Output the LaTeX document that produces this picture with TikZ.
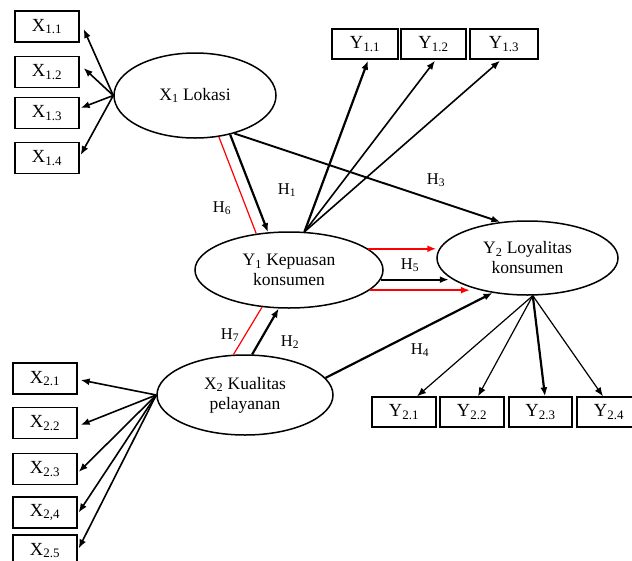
\documentclass[tikz,border=0pt]{standalone}
\usepackage{fontspec}
\setmainfont{Liberation Serif}
\usetikzlibrary{arrows.meta,shapes.geometric}
\newcommand\sbs[1]{\textsubscript{#1}}
\begin{document}
\begin{tikzpicture}[x=1pt,y=-1pt,
  ind/.style={draw,line width=1.3pt,minimum width=64pt,minimum height=30pt,inner sep=0pt,font=\fontsize{18.5}{20}\selectfont},
  lat/.style={draw,ellipse,line width=1.5pt,inner sep=0pt,align=center,font=\fontsize{17.5}{20}\selectfont},
  arr/.style={-{Latex[length=9pt,width=7pt]}},
  thk/.style={arr,line width=2.2pt},
  med/.style={arr,line width=1.6pt},
  thn/.style={arr,line width=1.2pt},
  redl/.style={red,line width=1.2pt},
  lab/.style={font=\fontsize{16.5}{18}\selectfont}]
\useasboundingbox (0,0) rectangle (632,560);

% latent variables
\node[lat,minimum width=162pt,minimum height=85pt] (x1) at (195,95.5) {X\sbs{1} Lokasi};
\node[lat,minimum width=188pt,minimum height=76pt] (y1) at (289,270) {Y\sbs{1} Kepuasan\\konsumen};
\node[lat,minimum width=181pt,minimum height=74pt] (y2) at (527.5,258) {Y\sbs{2} Loyalitas\\konsumen};
\node[lat,minimum width=176pt,minimum height=80pt] (x2) at (245,395) {X\sbs{2} Kualitas\\pelayanan};

% indicators X1
\node[ind,minimum height=31pt] (x11) at (47,26.5) {X\sbs{1.1}};
\node[ind,minimum height=31pt] (x12) at (47,72) {X\sbs{1.2}};
\node[ind,minimum height=31pt] (x13) at (47,113) {X\sbs{1.3}};
\node[ind,minimum height=31pt] (x14) at (47,158) {X\sbs{1.4}};
% indicators X2
\node[ind,minimum height=31pt] (x21) at (45,378.5) {X\sbs{2.1}};
\node[ind,minimum height=31pt] (x22) at (45,423) {X\sbs{2.2}};
\node[ind,minimum height=31pt] (x23) at (45,469) {X\sbs{2.3}};
\node[ind,minimum height=31pt] (x24) at (45,512.5) {X\sbs{2,4}};
\node[ind,minimum height=31pt] (x25) at (45,550.5) {X\sbs{2.5}};
% indicators Y1
\node[ind,minimum width=66pt] (y11) at (365,44) {Y\sbs{1.1}};
\node[ind,minimum width=65pt] (y12) at (433.5,44) {Y\sbs{1.2}};
\node[ind,minimum width=68pt] (y13) at (504,44) {Y\sbs{1.3}};
% indicators Y2
\node[ind] (y21) at (404,412) {Y\sbs{2.1}};
\node[ind] (y22) at (472,412) {Y\sbs{2.2}};
\node[ind,minimum width=63pt] (y23) at (540.5,412) {Y\sbs{2.3}};
\node[ind] (y24) at (609,412) {Y\sbs{2.4}};

% X1 loadings
\draw[med] (x1.west) -- ([xshift=4pt,yshift=-2.5pt]x11.east);
\draw[med] (x1.west) -- ([xshift=4pt,yshift=4pt]x12.east);
\draw[med] (x1.west) -- ([xshift=1pt,yshift=5pt]x13.east);
\draw[med] (x1.west) -- ([xshift=1pt,yshift=3pt]x14.east);
% X2 loadings
\draw[med] (x2.west) -- ([xshift=3pt,yshift=-1.5pt]x21.east);
\draw[med] (x2.west) -- ([xshift=3pt,yshift=-2pt]x22.east);
\draw[med] (x2.west) -- ([xshift=1pt,yshift=-3pt]x23.east);
\draw[med] (x2.west) -- ([xshift=1pt]x24.east);
\draw[med] (x2.west) -- ([xshift=1pt,yshift=2pt]x25.east);
% Y1 loadings
\draw[thk] (y1.68) -- ([xshift=3pt,yshift=-1pt]y11.south);
\draw[med] (y1.68) -- ([xshift=1.5pt,yshift=-1pt]y12.south);
\draw[med] (y1.68) -- ([xshift=-4pt,yshift=-1pt]y13.south);
% Y2 loadings
\draw[thn] (y2.-82) -- ([xshift=13pt]y21.north);
\draw[thn] (y2.-82) -- ([xshift=6pt]y22.north);
\draw[thk] (y2.-82) -- ([xshift=4.5pt]y23.north);
\draw[thn] (y2.-82) -- ([xshift=-6pt]y24.north);

% structural paths
\draw[redl] (x1.-60) -- (y1.132);
\draw[thk] (x1.-48) -- (y1.119);
\draw[med,line width=1.9pt] (x1.-44) -- (y2.127);
\draw[redl] (x2.106) -- (y1.-126);
\draw[thk] (x2.80) -- (y1.-105);
\draw[thk] (x2.12) -- (y2.-135);
\draw[thk,red] (y1.15) -- ++(68,0);
\draw[thk] (y1.-6) -- ++(68,0);
\draw[thk,red] (y1.-14) -- ++(100,0);

% labels
\node[lab] (h1) at (287,190) {H\sbs{1}};
\node[lab] (h3) at (436,180) {H\sbs{3}};
\node[lab] (h6) at (222,208) {H\sbs{6}};
\node[lab] (h5) at (410,265) {H\sbs{5}};
\node[lab] (h7) at (230,335) {H\sbs{7}};
\node[lab] (h2) at (290,342) {H\sbs{2}};
\node[lab] (h4) at (420,350) {H\sbs{4}};
\end{tikzpicture}
\end{document}
